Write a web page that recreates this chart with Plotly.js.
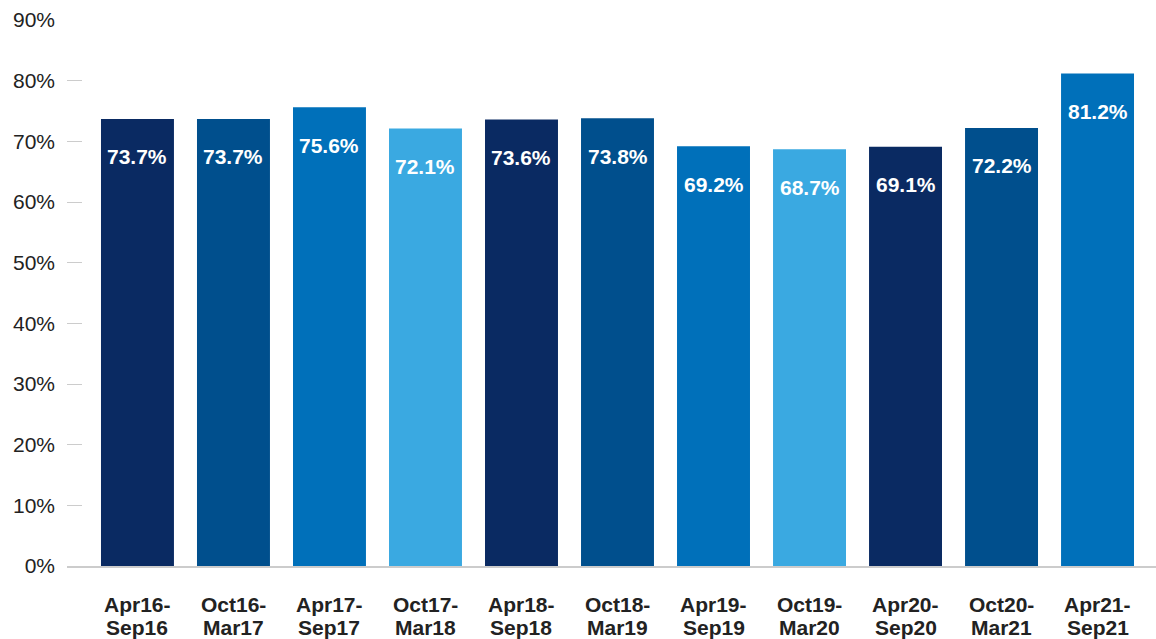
<!DOCTYPE html>
<html>
<head>
<meta charset="utf-8">
<script src="https://cdn.plot.ly/plotly-3.0.1.min.js"></script>
<style>html,body{margin:0;padding:0;background:#fff;}#chart{width:1156px;height:639px;}</style>
</head>
<body>
<div id="chart"></div>
<script>
const categories = ["Apr16-Sep16","Oct16-Mar17","Apr17-Sep17","Oct17-Mar18","Apr18-Sep18","Oct18-Mar19","Apr19-Sep19","Oct19-Mar20","Apr20-Sep20","Oct20-Mar21","Apr21-Sep21"];
const values = [73.7, 73.7, 75.6, 72.1, 73.6, 73.8, 69.2, 68.7, 69.1, 72.2, 81.2];
const palette = ["#0a2a62", "#004f8d", "#0070ba", "#3aa9e1"];
const yTickValues = [0,10,20,30,40,50,60,70,80,90];
const yTickLabels = yTickValues.map(v => v + "%");

const FONT = "'Liberation Sans', Arial, Helvetica, sans-serif";
const barColors = categories.map((c, i) => palette[i % palette.length]);

const trace = {
  type: "bar",
  x: categories,
  y: values,
  marker: {color: barColors, line: {width: 0}},
  hoverinfo: "skip"
};

const annotations = [];
categories.forEach((c, i) => {
  annotations.push({
    x: c, y: values[i], xref: "x", yref: "y",
    text: "<b>" + values[i].toFixed(1) + "%</b>",
    showarrow: false, yanchor: "middle", yshift: -38,
    font: {family: FONT, size: 21, color: "#ffffff"}
  });
  const parts = c.split("-");
  annotations.push({
    x: c, y: 0, xref: "x", yref: "y",
    text: "<b>" + parts[0] + "-</b>",
    showarrow: false, yanchor: "middle", yshift: -38,
    font: {family: FONT, size: 21, color: "#222222"}
  });
  annotations.push({
    x: c, y: 0, xref: "x", yref: "y",
    text: "<b>" + parts[1] + "</b>",
    showarrow: false, yanchor: "middle", yshift: -61,
    font: {family: FONT, size: 21, color: "#222222"}
  });
});

const layout = {
  width: 1156, height: 639,
  margin: {l: 67, r: 0, t: 20, b: 73},
  paper_bgcolor: "#ffffff", plot_bgcolor: "#ffffff",
  showlegend: false,
  bargap: 0.24,
  xaxis: {
    type: "category",
    range: [-0.734, 10.609],
    showticklabels: false,
    ticks: "",
    showgrid: false,
    zeroline: false,
    showline: true, linecolor: "#cccccc", linewidth: 2,
    fixedrange: true
  },
  yaxis: {
    range: [0, 90],
    tickvals: yTickValues,
    ticktext: yTickLabels,
    ticks: "inside", ticklen: 15, tickwidth: 1, tickcolor: "#cccccc",
    ticklabelstandoff: 11,
    showgrid: false, zeroline: false, showline: false,
    tickfont: {family: FONT, size: 21, color: "#222222"},
    fixedrange: true
  },
  annotations: annotations,
  font: {family: FONT}
};

Plotly.newPlot("chart", [trace], layout, {displayModeBar: false, staticPlot: true});
</script>
</body>
</html>
